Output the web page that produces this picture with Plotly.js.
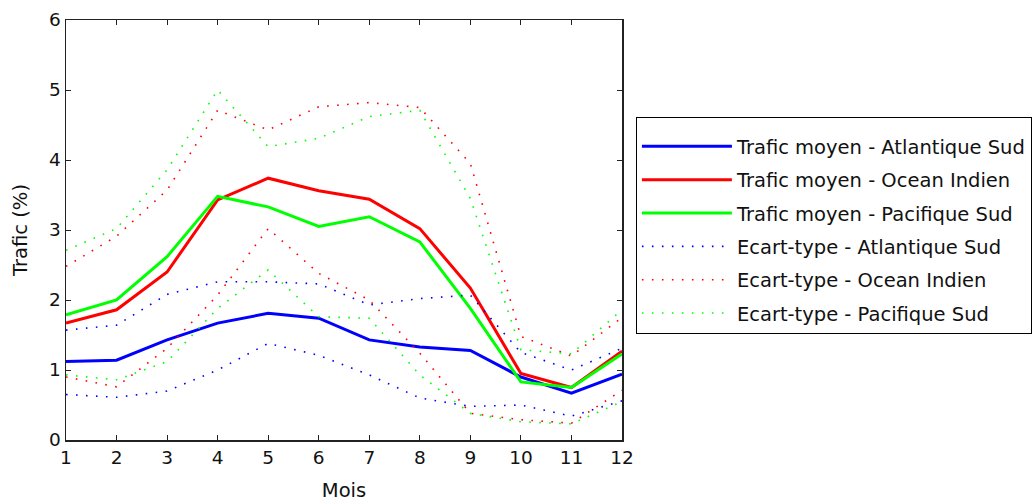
<!DOCTYPE html>
<html><head><meta charset="utf-8">
<script src="https://cdn.plot.ly/plotly-3.0.1.min.js"></script>
<style>html,body{margin:0;padding:0;background:#fff}#c{width:1035px;height:504px}</style>
</head><body><div id="c"></div>
<script>
const months = [1,2,3,4,5,6,7,8,9,10,11,12];
const meanAtl = [1.12,1.14,1.43,1.67,1.81,1.74,1.43,1.33,1.28,0.90,0.67,0.94];
const meanInd = [1.67,1.86,2.40,3.43,3.74,3.56,3.44,3.02,2.17,0.95,0.75,1.27];
const meanPac = [1.79,2.00,2.62,3.48,3.33,3.05,3.19,2.83,1.88,0.83,0.75,1.23];
const sdAtlHi = [1.57,1.64,2.08,2.26,2.26,2.23,1.93,2.02,2.07,1.25,1.00,1.31];
const sdAtlLo = [0.65,0.61,0.70,1.00,1.38,1.21,0.93,0.60,0.48,0.50,0.34,0.56];
const sdIndHi = [2.48,2.91,3.57,4.71,4.43,4.76,4.82,4.75,3.95,1.48,1.20,1.75];
const sdIndLo = [0.90,0.76,1.31,2.07,3.02,2.38,2.00,1.24,0.38,0.29,0.24,0.71];
const sdPacHi = [2.71,3.02,3.86,5.00,4.19,4.31,4.62,4.71,3.45,1.29,1.23,1.86];
const sdPacLo = [0.93,0.86,1.12,1.88,2.43,1.76,1.74,0.93,0.38,0.26,0.23,0.55];
const names = ["Trafic moyen - Atlantique Sud","Trafic moyen - Ocean Indien","Trafic moyen - Pacifique Sud",
  "Ecart-type - Atlantique Sud","Ecart-type - Ocean Indien","Ecart-type - Pacifique Sud"];
const xTicks = [1,2,3,4,5,6,7,8,9,10,11,12];
const yTicks = [0,1,2,3,4,5,6];

function mean(y,color,name,g){return {x:months,y:y,mode:'lines',name:name,legendgroup:g,
  line:{color:color,width:3}};}
function sd(y,color,name,g,show){return {x:months,y:y,mode:'lines',name:name,legendgroup:g,showlegend:show,
  line:{color:color,width:1.6,dash:'1.6px,8.4px'}};}
const traces = [
  mean(meanAtl,'#0000ff',names[0],'a'),
  mean(meanInd,'#ff0000',names[1],'b'),
  mean(meanPac,'#00ff00',names[2],'c'),
  sd(sdAtlHi,'#0000ff',names[3],'d',true),
  sd(sdIndHi,'#ff0000',names[4],'e',true),
  sd(sdPacHi,'#00ff00',names[5],'f',true),
  sd(sdAtlLo,'#0000ff',names[3],'d',false),
  sd(sdIndLo,'#ff0000',names[4],'e',false),
  sd(sdPacLo,'#00ff00',names[5],'f',false)
];
const FAM = '"DejaVu Sans", Verdana, sans-serif';
const tickFont = {family:FAM, size:18.5, color:'#111'};
const titleFont = {family:FAM, size:19.5, color:'#111'};
const layout = {
  width:1035,height:504,
  margin:{l:66,r:413,t:20,b:64,autoexpand:false},
  paper_bgcolor:'#fff',plot_bgcolor:'#fff',
  font:tickFont,
  showlegend:true,
  xaxis:{range:[1,12],tickvals:xTicks,ticktext:xTicks.map(String),ticks:'inside',ticklen:5,tickcolor:'#222',
    showline:true,mirror:'ticks',linecolor:'#222',linewidth:1.5,showgrid:false,zeroline:false,
    tickfont:tickFont,title:{text:'Mois',font:titleFont,standoff:16}},
  yaxis:{range:[0,6],tickvals:yTicks,ticktext:yTicks.map(String),ticks:'inside',ticklen:5,tickcolor:'#222',
    showline:true,mirror:'ticks',linecolor:'#222',linewidth:1.5,showgrid:false,zeroline:false,
    tickfont:tickFont,title:{text:'Trafic (%)',font:titleFont,standoff:16}},
  legend:{x:1.025,xanchor:'left',y:0.769,yanchor:'top',bordercolor:'#000',borderwidth:1,
    bgcolor:'#fff',font:{family:FAM,size:19.5,color:'#111'},
    title:{text:' ',font:{family:FAM,size:7}},
    itemwidth:90,tracegroupgap:5}
};
Plotly.newPlot('c',traces,layout,{staticPlot:true});
</script></body></html>
